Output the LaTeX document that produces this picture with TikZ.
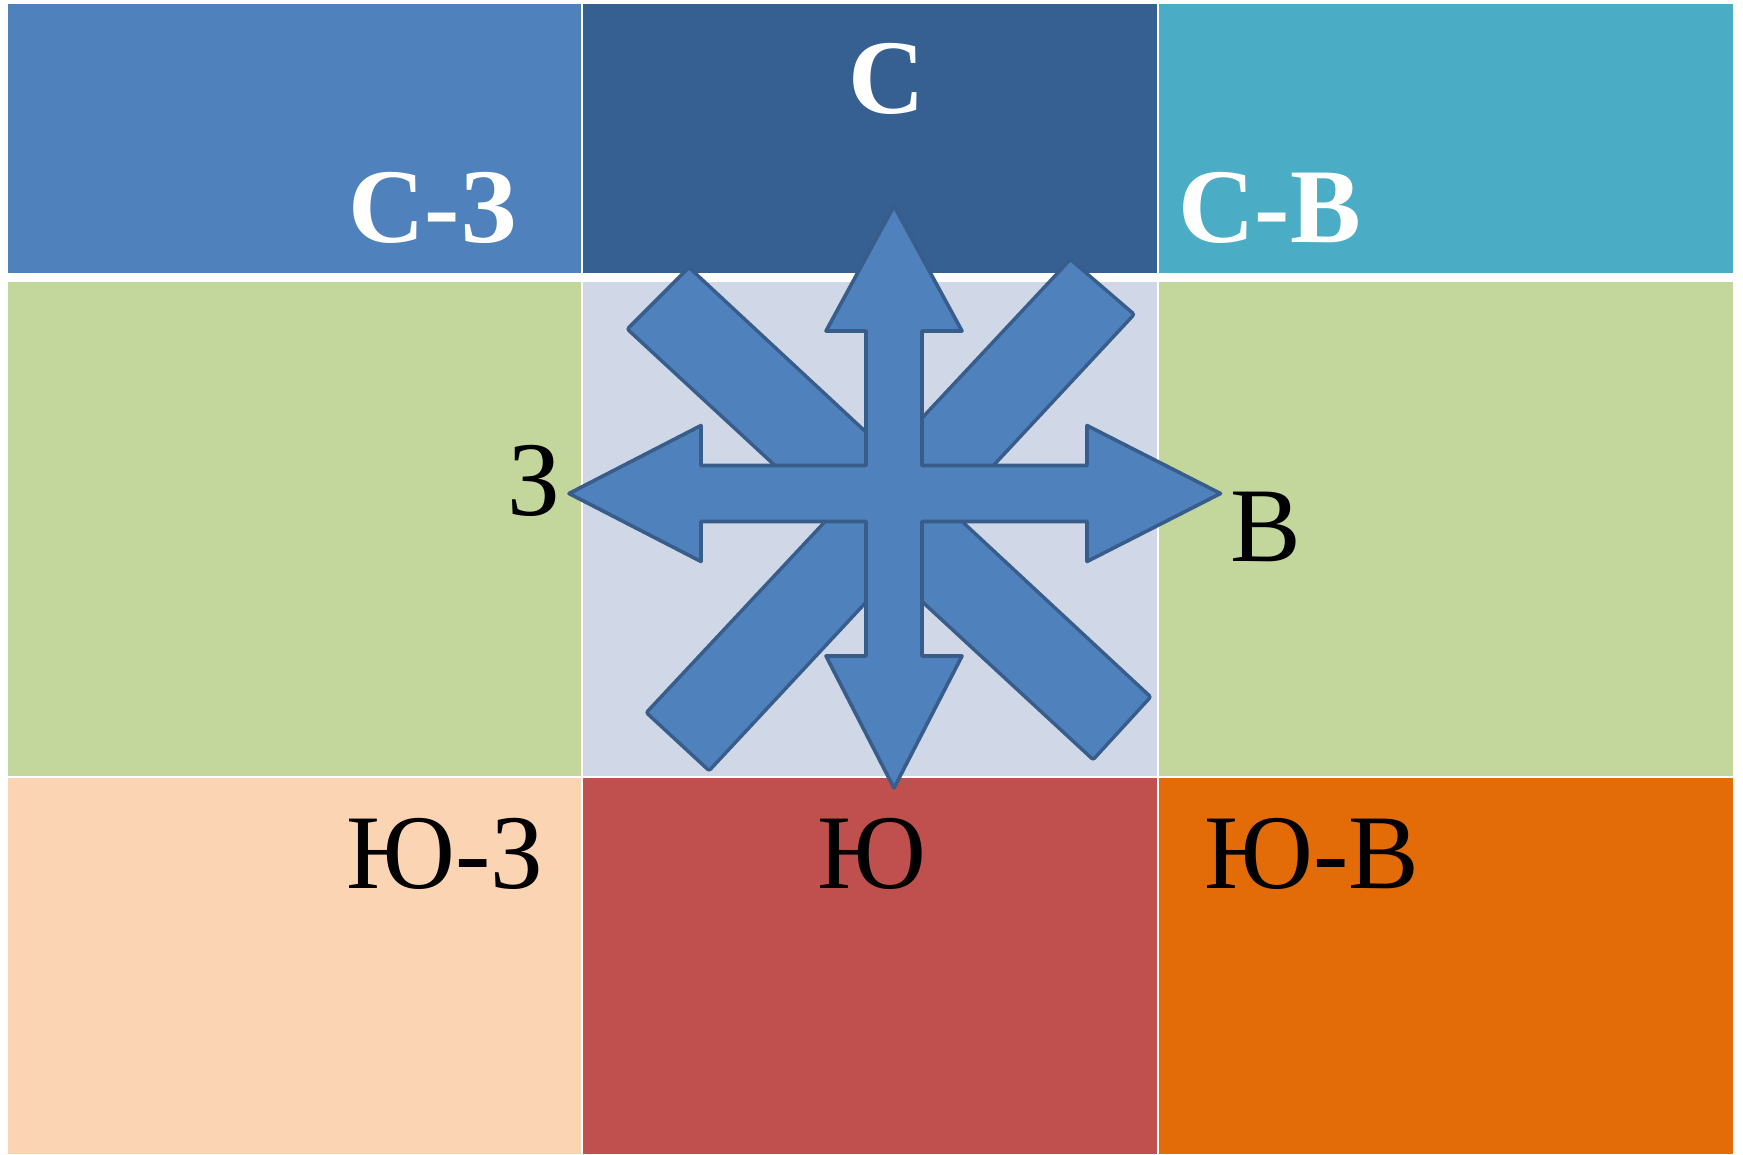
\documentclass[tikz,border=0pt]{standalone}
\usepackage{fontspec}
\setmainfont{Liberation Serif}
\definecolor{cTL}{HTML}{4F81BD}
\definecolor{cTC}{HTML}{366092}
\definecolor{cTR}{HTML}{4BACC6}
\definecolor{cGreen}{HTML}{C3D69B}
\definecolor{cCenter}{HTML}{D0D8E8}
\definecolor{cBL}{HTML}{FBD4B4}
\definecolor{cBC}{HTML}{C0504D}
\definecolor{cBR}{HTML}{E36C09}
\definecolor{cArrow}{HTML}{4F81BD}
\definecolor{cEdge}{HTML}{385D8A}
\tikzset{
  arrowshape/.style={fill=cArrow, draw=cEdge, line width=3.6pt, line join=round},
  baroutline/.style={draw=cEdge, line width=7.2pt, line join=round},
  barfill/.style={fill=cArrow},
  lbl/.style={anchor=base west, inner sep=0pt, font=\fontsize{106}{110}\selectfont},
  lblbold/.style={lbl, font=\fontsize{106}{110}\selectfont\bfseries, text=white},
}
\begin{document}
\begin{tikzpicture}[x=1pt,y=-1pt]
\useasboundingbox (0,0) rectangle (1743,1154);
\fill[white] (0,0) rectangle (1743,1154);
% top row
\fill[cTL] (8,4) rectangle (581,273);
\fill[cTC] (583,4) rectangle (1157,273);
\fill[cTR] (1159,4) rectangle (1733,273);
% middle row
\fill[cGreen] (8,282) rectangle (581,776);
\fill[cCenter] (583,282) rectangle (1157,776);
\fill[cGreen] (1159,282) rectangle (1733,776);
% bottom row
\fill[cBL] (8,778) rectangle (581,1154);
\fill[cBC] (583,778) rectangle (1157,1154);
\fill[cBR] (1159,778) rectangle (1733,1154);
% diagonal bars (drawn as one united shape)
\path[baroutline] (689,270) -- (1148,697) -- (1093,757) -- (630,329) -- cycle;
\path[baroutline] (1070.5,262) -- (1131.5,314.5) -- (709,768) -- (649,712.5) -- cycle;
\path[barfill] (689,270) -- (1148,697) -- (1093,757) -- (630,329) -- cycle;
\path[barfill] (1070.5,262) -- (1131.5,314.5) -- (709,768) -- (649,712.5) -- cycle;
% quad arrow
\draw[arrowshape] (894,206) -- (962,331) -- (922,331) -- (922,465.5) -- (1087,465.5) -- (1087,425.5)
  -- (1220.5,493.5) -- (1087,561.5) -- (1087,521.5) -- (922,521.5) -- (922,656) -- (962,656)
  -- (894,788) -- (826,656) -- (866,656) -- (866,521.5) -- (701,521.5) -- (701,561.5)
  -- (569,493.5) -- (701,425.5) -- (701,465.5) -- (866,465.5) -- (866,331) -- (826,331) -- cycle;
% labels
\node[lblbold] (n) at (848,113) {С};
\node[lblbold] (nw) at (348,242) {С-З};
\node[lblbold] (ne) at (1178,242) {С-В};
\node[lbl] (w) at (507,515) {З};
\node[lbl] (e) at (1230,561) {В};
\node[lbl] (sw) at (346,888) {Ю-З};
\node[lbl] (s) at (817,888) {Ю};
\node[lbl] (se) at (1204,888) {Ю-В};
\end{tikzpicture}
\end{document}
